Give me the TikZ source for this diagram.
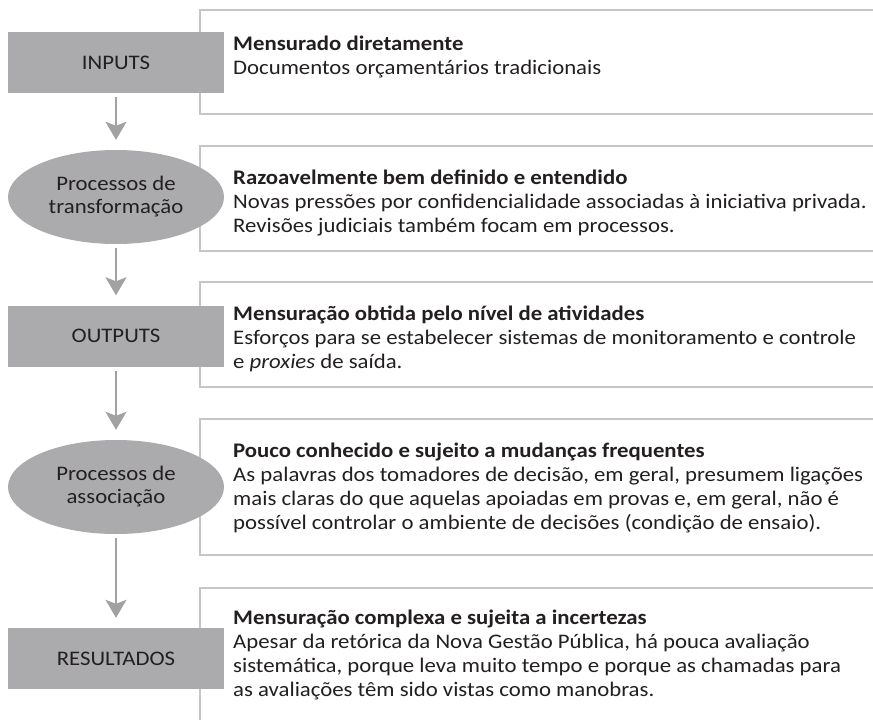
\documentclass[tikz,border=0pt]{standalone}
\usepackage{fontspec}
\setmainfont{Carlito}[FakeStretch=1.1]
\usetikzlibrary{shapes.geometric,arrows.meta}
\definecolor{shapegray}{HTML}{ABABAD}
\definecolor{framegray}{HTML}{C6C6C8}
\definecolor{arrowgray}{HTML}{A2A2A4}
\definecolor{txtcol}{HTML}{231F20}
\newcommand\diagfont{\fontsize{20.7}{24}\selectfont}
\newcommand\shapefont{\fontsize{20.7}{23}\selectfont}
\begin{document}
\begin{tikzpicture}[x=1pt,y=-1pt,
  stagerect/.style={rectangle, fill=shapegray, draw=none, minimum width=216pt, minimum height=61pt, inner sep=0pt, font=\shapefont, text=txtcol, align=center},
  stageell/.style={ellipse, fill=shapegray, draw=none, minimum width=216pt, minimum height=94pt, inner sep=0pt, font=\shapefont, text=txtcol, align=center},
  desc/.style={anchor=base west, inner sep=0pt, align=left, font=\diagfont, text=txtcol},
  frame/.style={draw=framegray, line width=2pt},
  flow/.style={draw=arrowgray, line width=2pt, -{Stealth[length=18pt,width=21pt,inset=4pt]}}
]
\useasboundingbox (0,0) rectangle (873,720);
% frames (open to the right)
\draw[frame] (880,9.5) -| (200,114) -- (880,114);
\draw[frame] (880,146) -| (200,251) -- (880,251);
\draw[frame] (880,282) -| (200,387) -- (880,387);
\draw[frame] (880,418.5) -| (200,555) -- (880,555);
\draw[frame] (880,587.5) -| (200,730);
% stages
\node[stagerect] (inputs) at (116,62.5) {INPUTS};
\node[stageell] (transf) at (116,197) {Processos de\\transformação};
\node[stagerect] (outputs) at (116,336) {OUTPUTS};
\node[stageell] (assoc) at (116,487) {Processos de\\associação};
\node[stagerect] (result) at (116,658.5) {RESULTADOS};
% descriptions (base anchor = baseline of the last line)
\node[desc] (d1) at (233,74) {\textbf{Mensurado diretamente}\\Documentos orçamentários tradicionais};
\node[desc] (d2) at (233,232) {\textbf{Razoavelmente bem definido e entendido}\\Novas pressões por confidencialidade associadas à iniciativa privada.\\Revisões judiciais também focam em processos.};
\node[desc] (d3) at (233,368) {\textbf{Mensuração obtida pelo nível de atividades}\\Esforços para se estabelecer sistemas de monitoramento e controle\\e \textit{proxies} de saída.};
\node[desc] (d4) at (233,529) {\textbf{Pouco conhecido e sujeito a mudanças frequentes}\\As palavras dos tomadores de decisão, em geral, presumem ligações\\mais claras do que aquelas apoiadas em provas e, em geral, não é\\possível controlar o ambiente de decisões (condição de ensaio).};
\node[desc] (d5) at (233,696) {\textbf{Mensuração complexa e sujeita a incertezas}\\Apesar da retórica da Nova Gestão Pública, há pouca avaliação\\sistemática, porque leva muito tempo e porque as chamadas para\\as avaliações têm sido vistas como manobras.};
% connectors
\draw[flow] ([yshift=-4pt]inputs.south) -- ([yshift=10pt]transf.north);
\draw[flow] ([yshift=-4pt]transf.south) -- ([yshift=10pt]outputs.north);
\draw[flow] ([yshift=-4pt]outputs.south) -- ([yshift=10pt]assoc.north);
\draw[flow] ([yshift=-4pt]assoc.south) -- ([yshift=10pt]result.north);
\end{tikzpicture}
\end{document}
